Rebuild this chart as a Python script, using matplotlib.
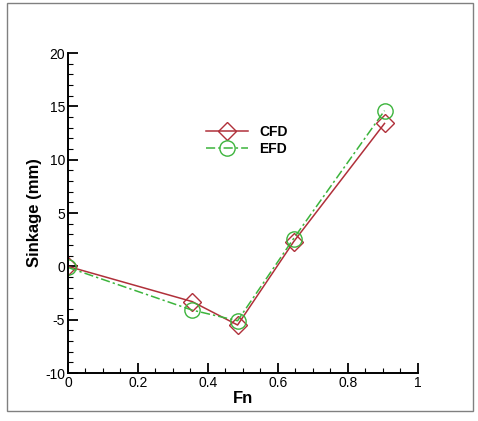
import matplotlib
matplotlib.use('Agg')
import matplotlib.pyplot as plt
from matplotlib.patches import Rectangle
from matplotlib.ticker import MultipleLocator, FuncFormatter

plt.rcParams['font.family'] = ['Liberation Sans', 'DejaVu Sans']

fn = [0.0, 0.355, 0.485, 0.645, 0.905]
cfd = [0.0, -3.3, -5.5, 2.3, 13.4]
efd = [-0.1, -4.1, -5.1, 2.6, 14.6]

fig = plt.figure(figsize=(4.78, 4.21), dpi=100)
ax = fig.add_axes([0.142, 0.114, 0.732, 0.76])

ax.plot(fn, cfd, color='#b0303a', lw=1.1, marker='D', ms=9, mfc='none', mec='#b0303a', mew=1.0, label='CFD')
ax.plot(fn, efd, color='#3cb43c', lw=1.1, ls=(0, (6, 2, 1.5, 2)), marker='o', ms=11, mfc='none', mec='#3cb43c', mew=1.0, label='EFD')

ax.set_xlim(0, 1)
ax.set_ylim(-10, 20)
ax.xaxis.set_major_locator(MultipleLocator(0.2))
ax.xaxis.set_minor_locator(MultipleLocator(0.05))
ax.yaxis.set_major_locator(MultipleLocator(5))
ax.yaxis.set_minor_locator(MultipleLocator(1))
ax.xaxis.set_major_formatter(FuncFormatter(lambda v, p: '%g' % round(v, 2)))
ax.yaxis.set_major_formatter(FuncFormatter(lambda v, p: '%g' % v))

for s in ['top', 'right']:
    ax.spines[s].set_visible(False)
for s in ['left', 'bottom']:
    ax.spines[s].set_linewidth(1.4)
ax.tick_params(which='major', direction='in', length=7, width=1.3, labelsize=10, pad=2)
ax.tick_params(which='minor', direction='in', length=3.5, width=0.8)

ax.set_xlabel('Fn', fontsize=12, fontweight='bold', labelpad=1)
ax.set_ylabel('Sinkage (mm)', fontsize=12, fontweight='bold', labelpad=2)

ax.legend(loc='upper left', bbox_to_anchor=(0.36, 0.815), frameon=False,
          prop={'weight': 'bold', 'size': 10}, handlelength=3.0, handletextpad=0.8, labelspacing=0.25)

fig.patches.append(Rectangle((7 / 478, 10 / 421), 466 / 478, 408 / 421, transform=fig.transFigure,
                             fill=False, ec='#808080', lw=1.0))

fig.savefig('out.png', dpi=100)
